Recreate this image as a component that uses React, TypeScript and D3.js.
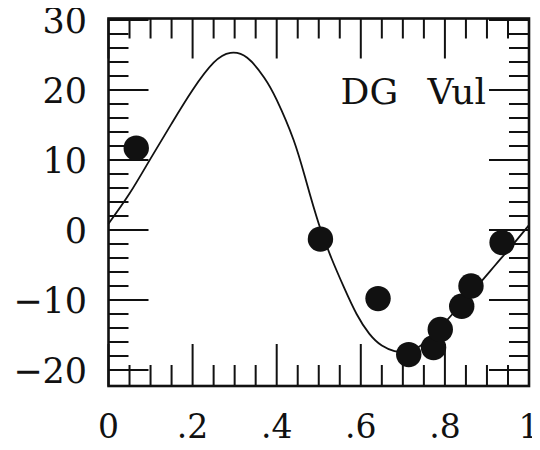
import { useRef, useEffect } from 'react'
import * as d3 from 'd3'

// observed radial velocities (phase, km/s)
const obsPhase = [0.066, 0.504, 0.641, 0.714, 0.773, 0.789, 0.840, 0.862, 0.936]
const obsVel = [11.7, -1.3, -9.8, -17.8, -16.8, -14.2, -10.9, -8.0, -1.8]

// orbit curve
const curvePhase = [0, 0.05, 0.10, 0.15, 0.20, 0.25, 0.29, 0.33, 0.37, 0.40, 0.44, 0.47, 0.50, 0.53, 0.56,
    0.59, 0.62, 0.65, 0.68, 0.70, 0.73, 0.76, 0.80, 0.84, 0.88, 0.92, 0.96, 1.00]
const curveVel = [0.9, 5.2, 10.2, 15.2, 20.0, 23.9, 25.3, 24.6, 21.8, 18.6, 12.9, 7.0, 0.9, -4.0, -8.2,
    -12.0, -14.8, -16.5, -17.3, -17.4, -17.0, -15.6, -13.2, -10.5, -7.8, -5.0, -2.2, 0.7]

const xTicks = [0, 0.2, 0.4, 0.6, 0.8, 1]
const xTickLabels = ['0', '.2', '.4', '.6', '.8', '1']
const yTicks = [-20, -10, 0, 10, 20, 30]
const yTickLabels = ['\u221220', '\u221210', '0', '10', '20', '30']
const starName = 'DG Vul'

const App = () => {
    const svgRef = useRef<SVGSVGElement>(null)

    useEffect(() => {
        const w = 540
        const h = 450
        const svg = d3.select(svgRef.current)
            .attr('width', w)
            .attr('height', h)
            .style('background', '#fff')
            .style('display', 'block')
        svg.selectAll('*').remove()

        const x = d3.scaleLinear().domain([0, 1]).range([108.5, 529])
        const y = d3.scaleLinear().domain([-20, 30]).range([370, 20])
        const left = x(0), right = x(1)
        const top = 18.5, bottom = 386

        const minorX = d3.range(0, 1.0001, 0.05)
        const minorY = d3.range(-20, 30.001, 2)
        const ink = '#111'

        // ticks on all four sides, pointing inward
        const tk = svg.append('g').attr('stroke', ink).attr('stroke-width', 2)
        minorX.forEach(v => {
            const big = xTicks.some(t => Math.abs(t - v) < 1e-6)
            const len = big ? 42 : 21
            tk.append('line').attr('x1', x(v)).attr('x2', x(v)).attr('y1', bottom).attr('y2', bottom - len)
            tk.append('line').attr('x1', x(v)).attr('x2', x(v)).attr('y1', top).attr('y2', top + (big ? 40 : 20))
        })
        minorY.forEach(v => {
            const big = yTicks.some(t => Math.abs(t - v) < 1e-6)
            const len = big ? 40 : 20
            tk.append('line').attr('x1', left).attr('x2', left + len).attr('y1', y(v)).attr('y2', y(v))
            tk.append('line').attr('x1', right).attr('x2', right - len).attr('y1', y(v)).attr('y2', y(v))
        })

        // frame
        svg.append('rect')
            .attr('x', left).attr('y', top)
            .attr('width', right - left).attr('height', bottom - top)
            .attr('fill', 'none').attr('stroke', ink).attr('stroke-width', 2.6)

        // labels
        svg.append('g').selectAll('text')
            .data(xTicks)
            .join('text')
                .attr('x', d => x(d))
                .attr('y', 438)
                .attr('text-anchor', 'middle')
                .attr('font-family', 'DejaVu Serif')
                .attr('font-size', 33)
                .attr('fill', ink)
                .text((d, i) => xTickLabels[i])
        svg.append('g').selectAll('text')
            .data(yTicks)
            .join('text')
                .attr('x', 87)
                .attr('y', d => y(d) + 12.5)
                .attr('text-anchor', 'end')
                .attr('font-family', 'DejaVu Serif')
                .attr('font-size', 35)
                .attr('fill', ink)
                .text((d, i) => yTickLabels[i])

        svg.append('text')
            .attr('x', 486)
            .attr('y', 104)
            .attr('text-anchor', 'end')
            .attr('font-family', 'DejaVu Serif')
            .attr('font-size', 36)
            .attr('word-spacing', 18)
            .attr('fill', ink)
            .text(starName)

        // orbit curve
        const line = d3.line<number>()
            .x(d => x(d))
            .y((d, i) => y(curveVel[i]))
            .curve(d3.curveNatural)
        svg.append('path')
            .datum(curvePhase)
            .attr('d', line)
            .attr('fill', 'none')
            .attr('stroke', ink)
            .attr('stroke-width', 1.8)

        // observations
        svg.append('g').selectAll('circle')
            .data(obsPhase)
            .join('circle')
                .attr('cx', d => x(d))
                .attr('cy', (d, i) => y(obsVel[i]))
                .attr('r', 12.7)
                .attr('fill', ink)
    }, [])

    return (
        <div style={{ margin: -8 }}>
            <svg ref={svgRef}></svg>
        </div>
    )
}

export default App
